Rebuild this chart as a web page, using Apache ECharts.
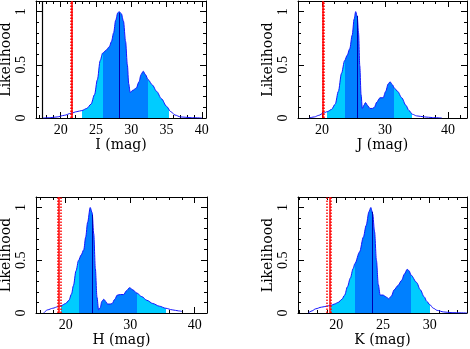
<!DOCTYPE html>
<html>
<head>
<meta charset="utf-8">
<script src="https://cdn.jsdelivr.net/npm/echarts@6/dist/echarts.min.js"></script>
<style>
  html, body { margin: 0; padding: 0; background: #fff; }
  #main { width: 470px; height: 349px; }
</style>
</head>
<body>
<div id="main"></div>
<script>
// panel order: I, J, H, K
const bandNames = ['I (mag)', 'J (mag)', 'H (mag)', 'K (mag)']
const xMin = [16.5, 16.2, 15.4, 15.9]
const xMax = [40.6, 43.0, 41.9, 34.0]
const xMajor = [[20, 25, 30, 35, 40], [20, 30, 40], [20, 30, 40], [20, 25, 30]]
const xMinor = [
  [17, 18, 19, 20, 21, 22, 23, 24, 25, 26, 27, 28, 29, 30, 31, 32, 33, 34, 35, 36, 37, 38, 39, 40],
  [18, 20, 22, 24, 26, 28, 30, 32, 34, 36, 38, 40, 42],
  [16, 18, 20, 22, 24, 26, 28, 30, 32, 34, 36, 38, 40],
  [16, 17, 18, 19, 20, 21, 22, 23, 24, 25, 26, 27, 28, 29, 30, 31, 32, 33]
]
const yMajor = [0, 0.5, 1]
const yMinor = [0, 0.1, 0.2, 0.3, 0.4, 0.5, 0.6, 0.7, 0.8, 0.9, 1.0]

const curveI = [
  [17.5, 0], [18.5, 0.003], [19.5, 0.01], [20.5, 0.025], [21.5, 0.045], [22.3, 0.06], [23.0, 0.07],
  [23.7, 0.09], [24.3, 0.13], [24.8, 0.22], [25.2, 0.36], [25.6, 0.54], [25.95, 0.61], [26.4, 0.635],
  [26.9, 0.67], [27.2, 0.72], [27.5, 0.8], [27.8, 0.92], [28.1, 0.99], [28.3, 1.0], [28.6, 0.98],
  [28.9, 0.91], [29.2, 0.72], [29.45, 0.5], [29.65, 0.32], [29.85, 0.24], [30.2, 0.26], [30.7, 0.28],
  [31.1, 0.34], [31.4, 0.41], [31.7, 0.44], [32.0, 0.41], [32.4, 0.36], [33.0, 0.31], [33.6, 0.25],
  [34.3, 0.18], [35.0, 0.11], [35.6, 0.06], [36.2, 0.028], [37.0, 0.01], [38.5, 0.003], [40.0, 0]
]
const curveJ = [
  [18.0, 0], [18.8, 0.01], [19.5, 0.025], [20.2, 0.045], [20.85, 0.06], [21.5, 0.08], [22.1, 0.13],
  [22.6, 0.25], [23.1, 0.42], [23.6, 0.54], [24.0, 0.59], [24.4, 0.65], [24.8, 0.78], [25.1, 0.93],
  [25.35, 1.0], [25.6, 0.95], [25.8, 0.8], [26.0, 0.49], [26.2, 0.22], [26.4, 0.09], [26.65, 0.12],
  [26.9, 0.145], [27.2, 0.12], [27.6, 0.09], [28.0, 0.09], [28.3, 0.1], [28.7, 0.15], [29.2, 0.19],
  [29.7, 0.19], [30.1, 0.25], [30.5, 0.32], [30.8, 0.34], [31.2, 0.31], [31.5, 0.28], [32.0, 0.25],
  [32.65, 0.19], [33.3, 0.12], [33.8, 0.07], [34.35, 0.035], [35.0, 0.02], [36.3, 0.01], [37.5, 0.004],
  [39.0, 0]
]
const curveH = [
  [16.6, 0], [17.2, 0.03], [18.0, 0.045], [18.8, 0.06], [19.3, 0.07], [20.0, 0.09], [20.5, 0.12],
  [20.9, 0.18], [21.2, 0.26], [21.6, 0.4], [22.0, 0.5], [22.4, 0.55], [22.8, 0.6], [23.1, 0.72],
  [23.4, 0.86], [23.8, 1.0], [24.1, 0.95], [24.35, 0.75], [24.6, 0.42], [24.85, 0.15], [25.1, 0.03],
  [25.35, 0.05], [25.6, 0.11], [25.9, 0.13], [26.2, 0.11], [26.5, 0.085], [26.9, 0.085], [27.2, 0.09],
  [27.6, 0.13], [28.0, 0.17], [28.5, 0.175], [29.0, 0.175], [29.4, 0.21], [29.9, 0.24], [30.4, 0.22],
  [31.0, 0.19], [31.8, 0.155], [32.6, 0.12], [33.5, 0.09], [34.5, 0.065], [35.5, 0.045], [36.5, 0.03],
  [37.5, 0.02], [38.0, 0.015]
]
const curveK = [
  [17.0, 0], [17.4, 0.02], [17.8, 0.04], [18.4, 0.055], [19.0, 0.065], [19.4, 0.072], [19.8, 0.085],
  [20.2, 0.1], [20.6, 0.13], [20.9, 0.17], [21.2, 0.25], [21.5, 0.33], [21.8, 0.42], [22.0, 0.47],
  [22.5, 0.58], [22.9, 0.72], [23.2, 0.83], [23.5, 0.96], [23.7, 1.0], [23.9, 0.94], [24.1, 0.77],
  [24.3, 0.5], [24.5, 0.27], [24.7, 0.17], [25.0, 0.17], [25.3, 0.155], [25.6, 0.135], [25.9, 0.16],
  [26.2, 0.22], [26.6, 0.26], [27.0, 0.31], [27.3, 0.37], [27.6, 0.415], [27.8, 0.4], [28.0, 0.36],
  [28.6, 0.29], [29.0, 0.22], [29.4, 0.155], [29.7, 0.11], [30.0, 0.08], [30.4, 0.045], [30.8, 0.025],
  [31.5, 0.01], [32.4, 0.003], [34.0, 0]
]
const curves = [curveI, curveJ, curveH, curveK]

// shaded intervals: [outer low, inner low, inner high, outer high]
const bandEdges = [
  [23.0, 25.95, 32.35, 35.3],
  [20.85, 23.65, 31.5, 34.35],
  [19.3, 22.0, 31.0, 35.5],
  [19.4, 22.0, 28.0, 30.0]
]
const medianX = [28.35, 25.55, 24.1, 23.82]
const medianY = [0.99, 0.96, 0.93, 0.96]
const obsMag = [21.5, 20.2, 19.0, 19.25]
const obsLo = [21.38, 20.08, 18.82, 18.95]
const obsHi = [21.62, 20.32, 19.18, 19.45]
const limitI = 17.4

const grids = [
  {left: 36, top: 1, width: 170, height: 117},
  {left: 298, top: 1, width: 169, height: 117},
  {left: 36, top: 197, width: 171, height: 116},
  {left: 298, top: 197, width: 169, height: 116}
]

const labelFont = {fontFamily: 'Liberation Serif', fontSize: 14, color: '#000'}
const nameFont = {fontFamily: 'DejaVu Serif', fontSize: 14, color: '#000'}
const tickStyle = {color: '#000', width: 1}
const edge = {show: true, onZero: false, lineStyle: {color: '#000', width: 1}}
const noEdge = {show: false, onZero: false}

function tickAxis (p, pos, isX, values, len, extra) {
  const a = {
    gridIndex: p,
    type: 'value',
    position: pos,
    min: isX ? xMin[p] : 0,
    max: isX ? xMax[p] : 1.1,
    splitLine: {show: false},
    axisLine: noEdge,
    axisLabel: {show: false},
    axisTick: {show: true, inside: true, length: len, customValues: values, lineStyle: tickStyle}
  }
  return Object.assign(a, extra || {})
}

let xAxis = []
let yAxis = []
let series = []
let visualMap = []

for (let p = 0; p < 4; p++) {
  xAxis.push(tickAxis(p, 'bottom', true, xMajor[p], 6, {
    axisLine: edge,
    name: bandNames[p],
    nameLocation: 'middle',
    nameGap: 19,
    nameTextStyle: nameFont,
    axisLabel: Object.assign({show: true, customValues: xMajor[p], margin: 5}, labelFont)
  }))
  xAxis.push(tickAxis(p, 'bottom', true, xMinor[p], 3))
  xAxis.push(tickAxis(p, 'top', true, xMajor[p], 6, {axisLine: edge}))
  xAxis.push(tickAxis(p, 'top', true, xMinor[p], 3))

  yAxis.push(tickAxis(p, 'left', false, yMajor, 6, {
    axisLine: edge,
    name: 'Likelihood',
    nameLocation: 'middle',
    nameGap: 22,
    nameTextStyle: nameFont,
    axisLabel: Object.assign({show: true, customValues: yMajor, rotate: 90, margin: 8}, labelFont)
  }))
  yAxis.push(tickAxis(p, 'left', false, yMinor, 3))
  yAxis.push(tickAxis(p, 'right', false, yMajor, 6, {axisLine: edge}))
  yAxis.push(tickAxis(p, 'right', false, yMinor, 3))

  const e = bandEdges[p]
  visualMap.push({
    type: 'piecewise',
    show: false,
    seriesIndex: series.length,
    dimension: 0,
    pieces: [
      {gte: e[0], lt: e[1], color: '#00ccff'},
      {gte: e[1], lt: e[2], color: '#0080ff'},
      {gte: e[2], lte: e[3], color: '#00ccff'}
    ],
    outOfRange: {color: 'rgba(0,0,0,0)'}
  })
  series.push({
    type: 'line',
    xAxisIndex: 4 * p,
    yAxisIndex: 4 * p,
    data: curves[p],
    smooth: 0.3,
    smoothMonotone: 'x',
    symbol: 'none',
    lineStyle: {width: 0},
    areaStyle: {opacity: 1},
    z: 1
  })

  let lines = [
    [{coord: [medianX[p], 0], lineStyle: {color: '#0000b0', width: 1, type: 'solid'}},
      {coord: [medianX[p], medianY[p]]}],
    {xAxis: obsLo[p], lineStyle: {color: '#ff0000', width: 1.5, type: [1.5, 1.5]}},
    {xAxis: obsHi[p], lineStyle: {color: '#ff0000', width: 1.5, type: [1.5, 1.5]}},
    {xAxis: obsMag[p], lineStyle: {color: '#ff0000', width: 1.5, type: 'solid'}}
  ]
  if (p === 0) {
    lines.push({xAxis: limitI, lineStyle: {color: '#000', width: 1.2, type: 'solid'}})
  }
  series.push({
    type: 'line',
    xAxisIndex: 4 * p,
    yAxisIndex: 4 * p,
    data: curves[p],
    smooth: 0.3,
    smoothMonotone: 'x',
    symbol: 'none',
    lineStyle: {color: '#1414ff', width: 1},
    z: 3,
    markLine: {
      silent: true,
      symbol: ['none', 'none'],
      label: {show: false},
      animation: false,
      data: lines
    }
  })
}

const chart = echarts.init(document.getElementById('main'), null, {renderer: 'canvas'})
chart.setOption({
  animation: false,
  backgroundColor: '#fff',
  grid: grids.map(g => Object.assign({containLabel: false, outerBoundsMode: 'none'}, g)),
  xAxis: xAxis,
  yAxis: yAxis,
  visualMap: visualMap,
  series: series
})
</script>
</body>
</html>
